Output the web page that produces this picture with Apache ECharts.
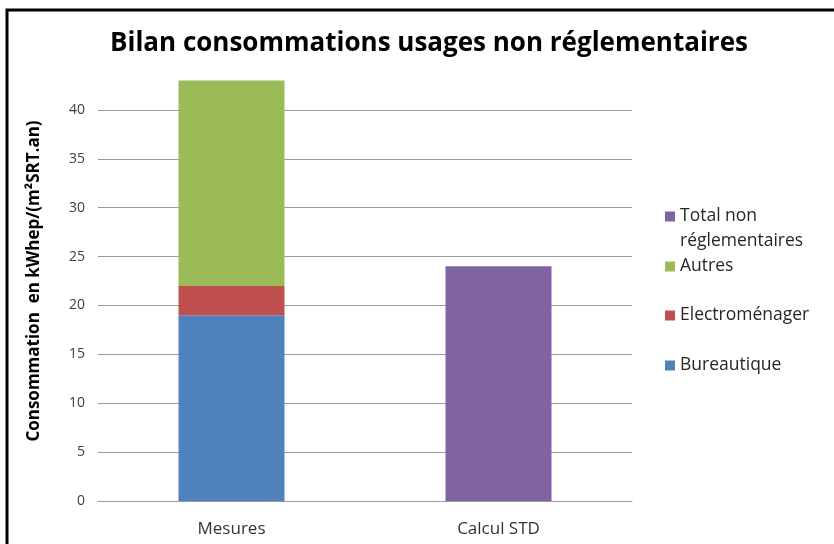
<!DOCTYPE html>
<html>
<head>
<meta charset="utf-8">
<script src="https://cdn.jsdelivr.net/npm/echarts@6/dist/echarts.min.js"></script>
<style>
  html, body { margin: 0; padding: 0; background: #fff; }
  #chart { width: 834px; height: 544px; }
</style>
</head>
<body>
<div id="chart"></div>
<script>
const categories = ['Mesures', 'Calcul STD']
const bureautique = [19, '-']
const electromenager = [3, '-']
const autres = [21, '-']
const totalNonRegl = ['-', 24]
const yTicks = { min: 0, max: 45, interval: 5 }

const COLORS = {
  bureautique: '#4F81BD',
  electro: '#C0504D',
  autres: '#9BBB59',
  total: '#8064A2',
}
const FONT = '"Open Sans", "DejaVu Sans", sans-serif'
const legendText = { fontFamily: FONT, fontSize: 17.5, color: '#262626', lineHeight: 25 }

const chart = echarts.init(document.getElementById('chart'))

// one legend per entry so the spacing can follow the original
function legendAt(name, top, extra) {
  return Object.assign({
    data: [name],
    orient: 'vertical',
    left: 660,
    top: top,
    itemWidth: 10,
    itemHeight: 10,
    icon: 'rect',
    selectedMode: false,
    textStyle: legendText,
  }, extra || {})
}

chart.setOption({
  animation: false,
  title: {
    text: 'Bilan consommations usages non réglementaires',
    left: 110,
    top: 31,
    padding: 0,
    textStyle: { fontFamily: FONT, fontSize: 26, fontWeight: 'bold', color: '#000' },
  },
  graphic: [{
    type: 'rect',
    shape: { x: 7, y: 10, width: 900, height: 600 },
    style: { fill: 'none', stroke: '#000', lineWidth: 3 },
    silent: true,
  }],
  legend: [
    // leading blank line keeps the icon level with the first text line
    legendAt('Total non réglementaires', 174, {
      formatter: () => ' \nTotal non\nréglementaires',
    }),
    legendAt('Autres', 249),
    legendAt('Electroménager', 298),
    legendAt('Bureautique', 348),
  ],
  grid: { left: 98, right: 202, top: 61, bottom: 43 },
  xAxis: {
    type: 'category',
    data: categories,
    axisTick: { show: false },
    axisLine: { lineStyle: { color: '#9a9a9a', width: 1 } },
    axisLabel: { fontFamily: FONT, fontSize: 17, color: '#333', margin: 20 },
  },
  yAxis: {
    type: 'value',
    min: yTicks.min,
    max: yTicks.max,
    interval: yTicks.interval,
    name: 'Consommation  en kWhep/(m²SRT.an)',
    nameLocation: 'middle',
    nameGap: 55,
    nameTextStyle: { fontFamily: FONT, fontSize: 17, fontWeight: 'bold', color: '#000' },
    axisLine: { show: false },
    axisTick: { show: false },
    axisLabel: { fontFamily: FONT, fontSize: 14, color: '#404040', margin: 13, showMaxLabel: false },
    splitLine: { show: true, showMaxLine: false, lineStyle: { color: '#9a9a9a', width: 1 } },
  },
  series: [
    { name: 'Bureautique', type: 'bar', stack: 'a', data: bureautique, barWidth: 106, itemStyle: { color: COLORS.bureautique } },
    { name: 'Electroménager', type: 'bar', stack: 'a', data: electromenager, itemStyle: { color: COLORS.electro } },
    { name: 'Autres', type: 'bar', stack: 'a', data: autres, itemStyle: { color: COLORS.autres } },
    { name: 'Total non réglementaires', type: 'bar', stack: 'a', data: totalNonRegl, itemStyle: { color: COLORS.total } },
  ],
})
</script>
</body>
</html>
